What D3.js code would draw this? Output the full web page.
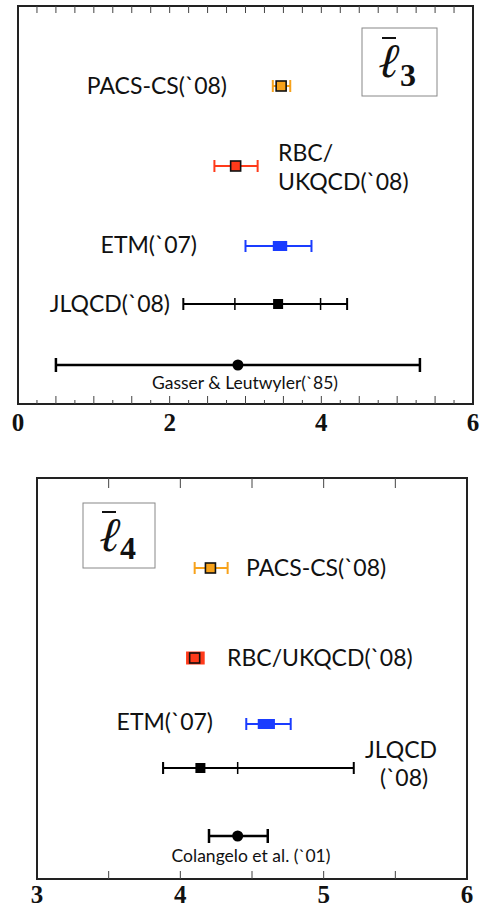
<!DOCTYPE html>
<html>
<head>
<meta charset="utf-8">
<script src="https://cdn.jsdelivr.net/npm/d3@7"></script>
<style>
  body { margin: 0; background: #fff; }
  svg { display: block; }
</style>
</head>
<body>
<svg id="canvas" width="484" height="909"></svg>
<script>
// l3 panel data
let l3Names = ["PACS-CS(`08)", "RBC/UKQCD(`08)", "ETM(`07)", "JLQCD(`08)", "Gasser & Leutwyler(`85)"];
let l3Central = [3.47, 2.87, 3.45, 3.43, 2.90];
let l3Low = [3.36, 2.59, 3.00, 2.18, 0.50];
let l3High = [3.59, 3.16, 3.87, 4.34, 5.30];
let l3StatLow = [null, null, 3.36, 2.86, null];
let l3StatHigh = [null, null, 3.55, 3.99, null];
let l3Ticks = [0, 2, 4, 6];

// l4 panel data
let l4Names = ["PACS-CS(`08)", "RBC/UKQCD(`08)", "ETM(`07)", "JLQCD(`08)", "Colangelo et al. (`01)"];
let l4Central = [4.21, 4.10, 4.60, 4.14, 4.40];
let l4Low = [4.10, 4.04, 4.46, 3.88, 4.20];
let l4High = [4.33, 4.17, 4.77, 5.21, 4.61];
let l4StatLow = [null, null, 4.54, 3.88, null];
let l4StatHigh = [null, null, 4.66, 4.40, null];
let l4Ticks = [3, 4, 5, 6];

let colors = ["#f7a21b", "#ff3a1a", "#1a3cff", "#000000", "#000000"];

let svg = d3.select("#canvas");

let drawPanel = (p) => {
  let x = d3.scaleLinear().domain(p.domain).range([p.left, p.right]);
  let g = svg.append("g");

  // frame
  g.append("rect")
    .attr("x", p.left).attr("y", p.top)
    .attr("width", p.right - p.left).attr("height", p.bottom - p.top)
    .attr("fill", "none").attr("stroke", "#222").attr("stroke-width", 2);

  // ticks top and bottom
  let minor = d3.range(p.domain[0], p.domain[1] + 1e-9, p.minorStep);
  minor.forEach((v, i) => {
    if (i === 0 || i === minor.length - 1) return;
    let major = Math.abs(v / p.majorStep - Math.round(v / p.majorStep)) < 1e-6;
    let len = major ? p.majorLen : p.minorLen;
    g.append("line").attr("x1", x(v)).attr("x2", x(v))
      .attr("y1", p.bottom).attr("y2", p.bottom - len)
      .attr("stroke", "#444").attr("stroke-width", 1);
    g.append("line").attr("x1", x(v)).attr("x2", x(v))
      .attr("y1", p.top).attr("y2", p.top + p.topLen)
      .attr("stroke", "#444").attr("stroke-width", 1);
  });

  // tick labels
  g.selectAll(".tl").data(p.ticks).enter().append("text")
    .attr("x", (d) => x(d)).attr("y", p.tickY)
    .attr("text-anchor", "middle")
    .attr("font-family", "Liberation Serif, serif").attr("font-weight", "bold")
    .attr("font-size", 25).attr("fill", "#111")
    .text((d) => d);

  // label box with l-bar symbol
  g.append("rect")
    .attr("x", p.box[0]).attr("y", p.box[1]).attr("width", p.box[2]).attr("height", p.box[3])
    .attr("fill", "#fff").attr("stroke", "#888").attr("stroke-width", 1);
  let s = p.sym;
  g.append("text")
    .attr("transform", "translate(" + s.lx + "," + s.ly + ") skewX(-14)")
    .attr("font-family", "DejaVu Serif, serif")
    .attr("font-size", 48).attr("fill", "#111")
    .text("ℓ");
  g.append("line").attr("x1", s.bx1).attr("x2", s.bx2)
    .attr("y1", s.by).attr("y2", s.by).attr("stroke", "#111").attr("stroke-width", 2);
  g.append("text").attr("x", s.sx).attr("y", s.sy)
    .attr("font-family", "Liberation Serif, serif").attr("font-weight", "bold")
    .attr("font-size", 32).attr("fill", "#111")
    .text(p.sub);

  // error bars and markers
  p.names.forEach((name, i) => {
    let y = p.rowY[i];
    let c = colors[i];
    let style = p.styles[i];
    let sw = i === 4 ? 2.5 : 2;
    let cap = i === 4 ? 7 : 6;
    if (style === "block") {
      g.append("rect").attr("x", x(p.low[i])).attr("y", y - 6.5)
        .attr("width", x(p.high[i]) - x(p.low[i])).attr("height", 13).attr("fill", c);
    } else {
      g.append("line").attr("x1", x(p.low[i])).attr("x2", x(p.high[i]))
        .attr("y1", y).attr("y2", y).attr("stroke", c).attr("stroke-width", sw);
      [p.low[i], p.high[i]].forEach((v) => {
        g.append("line").attr("x1", x(v)).attr("x2", x(v))
          .attr("y1", y - cap).attr("y2", y + cap).attr("stroke", c).attr("stroke-width", sw);
      });
    }
    if (style === "inner") {
      [p.statLow[i], p.statHigh[i]].forEach((v) => {
        g.append("line").attr("x1", x(v)).attr("x2", x(v))
          .attr("y1", y - 6).attr("y2", y + 6).attr("stroke", c).attr("stroke-width", 1.5);
      });
    }
    if (style === "circle") {
      g.append("circle").attr("cx", x(p.central[i])).attr("cy", y).attr("r", 5.5).attr("fill", "#000");
    } else if (style === "wide") {
      g.append("rect").attr("x", x(p.statLow[i])).attr("y", y - 5)
        .attr("width", x(p.statHigh[i]) - x(p.statLow[i])).attr("height", 10).attr("fill", c);
    } else if (style === "inner") {
      g.append("rect").attr("x", x(p.central[i]) - 5).attr("y", y - 5)
        .attr("width", 10).attr("height", 10).attr("fill", "#000");
    } else {
      g.append("rect").attr("x", x(p.central[i]) - 5).attr("y", y - 5)
        .attr("width", 10).attr("height", 10).attr("fill", c)
        .attr("stroke", "#111").attr("stroke-width", 1.6);
    }
  });

  // labels
  p.labels.forEach((lab) => {
    let t = g.append("text")
      .attr("x", lab.x).attr("y", lab.y)
      .attr("text-anchor", lab.anchor || "start")
      .attr("font-family", "Lato, sans-serif")
      .attr("font-size", lab.size || 23).attr("fill", "#111");
    lab.lines.forEach((line, k) => {
      t.append("tspan").attr("x", lab.x).attr("dy", k === 0 ? 0 : 29).text(line);
    });
  });
};

drawPanel({
  domain: [0, 6], left: 18, right: 473, top: 6, bottom: 404, tickY: 431,
  minorStep: 0.25, majorStep: 0.5, majorLen: 8, minorLen: 4, topLen: 7,
  ticks: l3Ticks, sub: "3", box: [362, 28, 75, 68],
  sym: { lx: 374, ly: 77, bx1: 382, bx2: 396, by: 38, sx: 400, sy: 86 },
  names: l3Names, central: l3Central, low: l3Low, high: l3High,
  statLow: l3StatLow, statHigh: l3StatHigh,
  styles: ["square", "square", "wide", "inner", "circle"],
  rowY: [86, 166, 246, 304, 365],
  labels: [
    { x: 227, y: 94, anchor: "end", lines: ["PACS-CS(`08)"] },
    { x: 278, y: 161, lines: ["RBC/", "UKQCD(`08)"] },
    { x: 197, y: 253, anchor: "end", lines: ["ETM(`07)"] },
    { x: 170, y: 312, anchor: "end", lines: ["JLQCD(`08)"] },
    { x: 245, y: 389, anchor: "middle", size: 17.5, lines: [l3Names[4]] }
  ]
});

drawPanel({
  domain: [3, 6], left: 37, right: 467, top: 478, bottom: 879, tickY: 903,
  minorStep: 0.5, majorStep: 0.5, majorLen: 8, minorLen: 8, topLen: 10,
  ticks: l4Ticks, sub: "4", box: [83, 503, 72, 65],
  sym: { lx: 95, ly: 551, bx1: 102, bx2: 116, by: 512, sx: 120, sy: 559 },
  names: l4Names, central: l4Central, low: l4Low, high: l4High,
  statLow: l4StatLow, statHigh: l4StatHigh,
  styles: ["square", "block", "wide", "inner", "circle"],
  rowY: [568, 658, 724, 768, 836],
  labels: [
    { x: 246, y: 576, lines: ["PACS-CS(`08)"] },
    { x: 227, y: 666, lines: ["RBC/UKQCD(`08)"] },
    { x: 213, y: 730, anchor: "end", lines: ["ETM(`07)"] },
    { x: 365, y: 758, lines: ["JLQCD"] },
    { x: 380, y: 786, lines: ["(`08)"] },
    { x: 251, y: 862, anchor: "middle", size: 17.5, lines: [l4Names[4]] }
  ]
});
</script>
</body>
</html>
